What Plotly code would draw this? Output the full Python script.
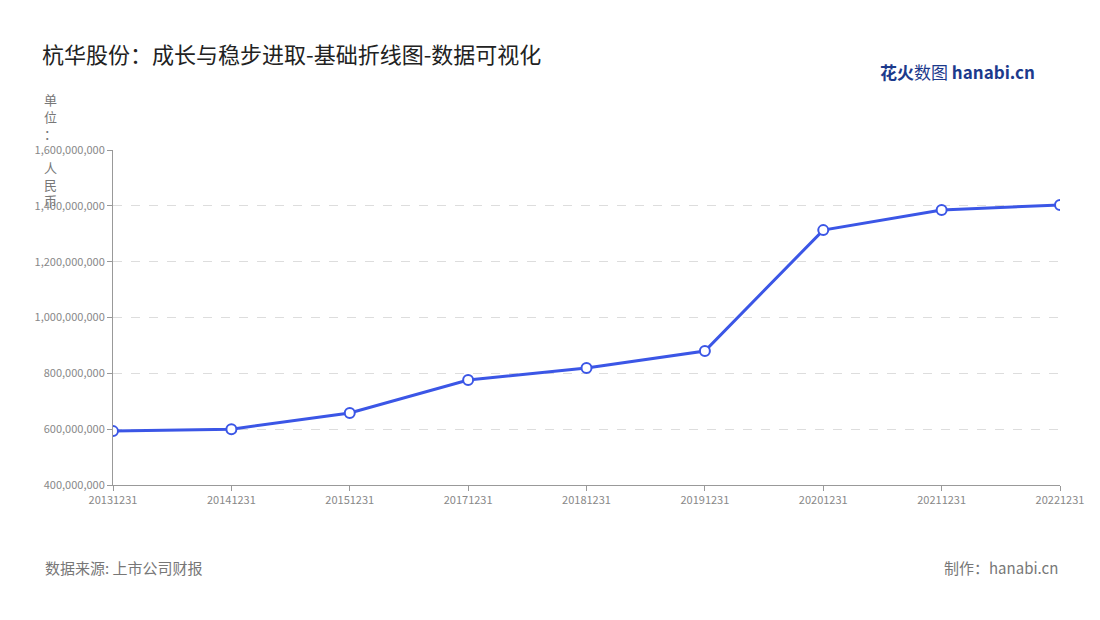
import plotly.graph_objects as go

dates = ["20131231", "20141231", "20151231", "20171231", "20181231",
         "20191231", "20201231", "20211231", "20221231"]
revenue = [593000000, 600000000, 658000000, 776000000, 819000000,
           880000000, 1313000000, 1385000000, 1403000000]
y_ticks = [400000000, 600000000, 800000000, 1000000000, 1200000000,
           1400000000, 1600000000]

font = "Noto Sans CJK SC"

fig = go.Figure()
fig.add_trace(go.Scatter(
    x=dates, y=revenue, mode="lines+markers",
    line=dict(color="#3b56e6", width=3),
    marker=dict(size=10, color="white", line=dict(color="#3b56e6", width=2)),
    hovertemplate="%{x}<br>%{y:,}<extra></extra>",
))

fig.update_layout(
    width=1100, height=620,
    paper_bgcolor="white", plot_bgcolor="white",
    margin=dict(l=105, r=48, t=142, b=143),
    showlegend=False,
    font=dict(family=font),
    title=dict(text="杭华股份：成长与稳步进取-基础折线图-数据可视化",
               font=dict(size=22, color="#222"), x=0.031, y=0.924,
               xanchor="left", yanchor="middle"),
)
fig.update_xaxes(
    type="category", range=[0, len(dates) - 1],
    showline=True, linecolor="#999", ticks="outside", ticklen=5,
    tickcolor="#999", tickfont=dict(size=11, color="#888"), showgrid=False,
)
fig.update_yaxes(
    range=[400000000, 1600000000], tickvals=y_ticks,
    tickformat=",d", showline=True, linecolor="#999",
    ticks="outside", ticklen=5, tickcolor="#999",
    tickfont=dict(size=11, color="#888"),
    gridcolor="#ddd", griddash="dash", zeroline=False,
)

fig.add_annotation(text="单<br>位<br>：<br><br>人<br>民<br>币", xref="paper", yref="paper",
                   x=-0.0665, y=1.185, xanchor="center", yanchor="top", showarrow=False,
                   font=dict(size=13, color="#777"), align="center")
fig.add_annotation(text="数据来源: 上市公司财报", xref="paper", yref="paper",
                   x=-0.074, y=-0.245, xanchor="left", yanchor="middle", showarrow=False,
                   font=dict(size=15, color="#777"))
fig.add_annotation(text="制作：hanabi.cn", xref="paper", yref="paper",
                   x=1.0, y=-0.245, xanchor="right", yanchor="middle", showarrow=False,
                   font=dict(size=15, color="#777"))
fig.add_annotation(text="<b>花火</b>数图 <b>hanabi.cn</b>", xref="paper", yref="paper",
                   x=0.976, y=1.233, xanchor="right", yanchor="middle", showarrow=False,
                   font=dict(size=17, color="#1c3a8c"))

fig.write_html("out.html")
